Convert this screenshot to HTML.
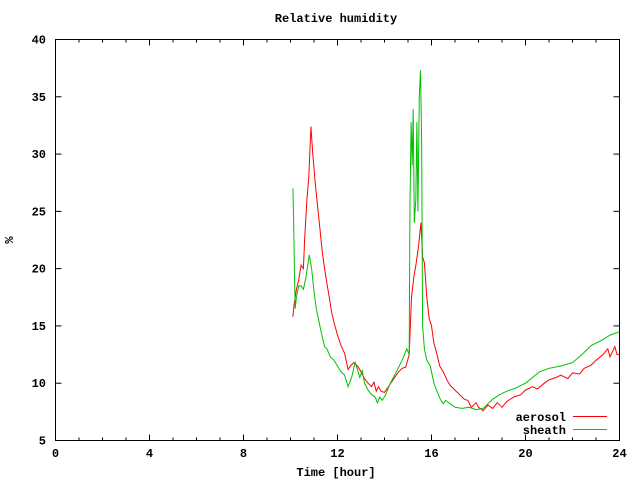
<!DOCTYPE html>
<html><head><meta charset="utf-8">
<style>
html,body{margin:0;padding:0;background:#fff;}
svg{display:block;}
text{font-family:"Liberation Mono","DejaVu Sans Mono",monospace;font-size:12px;font-weight:bold;fill:#000;}
</style></head>
<body>
<svg id="chart" width="640" height="480" viewBox="0 0 640 480">
<rect x="0" y="0" width="640" height="480" fill="#fff"/>
<text x="336" y="22" text-anchor="middle">Relative humidity</text>
<text x="336" y="476" text-anchor="middle">Time [hour]</text>
<text x="13" y="240" text-anchor="middle" transform="rotate(-90 13 240)">%</text>
<g id="axes"></g>
<g id="series"></g>
<rect x="55.5" y="39.5" width="564" height="401" fill="none" stroke="#000" stroke-width="1"/>
<g>
<text x="566" y="421" text-anchor="end">aerosol</text>
<line x1="573" y1="416.5" x2="607" y2="416.5" stroke="#ff0000" stroke-width="1"/>
<text x="566" y="434" text-anchor="end">sheath</text>
<line x1="573" y1="429.5" x2="607" y2="429.5" stroke="#00c000" stroke-width="1"/>
</g>
</svg>
<script>
const xTicks = [0, 4, 8, 12, 16, 20, 24];
const xMinorTicks = [1,2,3,5,6,7,9,10,11,13,14,15,17,18,19,21,22,23];
const yTicks = [5, 10, 15, 20, 25, 30, 35, 40];

const aerosolTime = [10.1,10.15,10.25,10.35,10.45,10.55,10.6,10.7,10.78,10.87,10.95,11.05,11.15,11.25,11.35,11.45,11.55,11.65,11.75,11.85,12.0,12.15,12.3,12.45,12.55,12.7,12.85,13.0,13.15,13.3,13.45,13.55,13.65,13.75,13.85,14.0,14.2,14.4,14.6,14.75,14.9,15.05,15.15,15.25,15.35,15.45,15.55,15.62,15.7,15.8,15.9,16.0,16.1,16.2,16.35,16.5,16.65,16.8,17.0,17.2,17.4,17.55,17.7,17.9,18.0,18.2,18.4,18.6,18.8,19.0,19.2,19.5,19.8,20.0,20.3,20.5,20.8,21.0,21.3,21.5,21.8,22.0,22.3,22.5,22.8,23.0,23.3,23.5,23.6,23.8,23.9,24.0];
const aerosolValues = [15.8,16.8,18.2,19.0,20.3,20.0,22.5,26,28,32.4,30,27.5,25.5,23.5,21.5,20,18.7,17.5,16.2,15.3,14.2,13.3,12.6,11.2,11.5,11.8,11.5,11.0,10.4,10.0,9.7,10.1,9.3,9.7,9.3,9.2,9.8,10.4,11.0,11.3,11.4,12.5,17.5,19.3,20.5,22,24,21,20.5,17.5,15.7,15,13.5,12.8,11.5,11,10.3,9.8,9.4,9.0,8.6,8.5,7.9,8.3,7.9,7.6,8.1,7.8,8.3,7.9,8.4,8.8,9.0,9.4,9.7,9.5,10.0,10.3,10.5,10.7,10.4,10.9,10.8,11.3,11.6,12.0,12.5,13.0,12.3,13.2,12.5,12.5];

const sheathTime = [10.1,10.13,10.17,10.2,10.25,10.35,10.45,10.55,10.65,10.8,10.9,11.0,11.1,11.2,11.3,11.45,11.55,11.7,11.85,12.0,12.15,12.3,12.45,12.6,12.75,12.85,12.95,13.05,13.15,13.3,13.45,13.6,13.7,13.8,13.9,14.05,14.2,14.5,14.75,14.95,15.05,15.08,15.13,15.18,15.22,15.27,15.33,15.38,15.42,15.48,15.53,15.58,15.62,15.7,15.8,15.95,16.1,16.25,16.4,16.5,16.6,16.8,17.0,17.3,17.6,17.9,18.2,18.4,18.6,18.9,19.2,19.6,20.0,20.3,20.6,21.0,21.5,22.0,22.4,22.8,23.2,23.6,24.0];
const sheathValues = [27,24.5,19.5,16.5,17.5,18.5,18.5,18.2,19.2,21.2,20,18,16.5,15.5,14.5,13.2,13.0,12.3,12.0,11.5,11.0,10.7,9.7,10.5,11.8,11.2,10.5,11.1,10.0,9.4,9.0,8.8,8.3,8.8,8.5,9.0,9.8,11,12,13.0,12.5,25,32.8,29,33.9,24,26,32.8,25,35,37.3,31.5,15,13.0,12.0,11.5,10.0,9.2,8.5,8.2,8.5,8.2,7.9,7.8,7.9,7.7,7.8,8.2,8.6,9.0,9.3,9.6,10.0,10.5,11.0,11.3,11.5,11.8,12.5,13.3,13.7,14.2,14.5];

const NS = "http://www.w3.org/2000/svg";
const X0 = 55.5, X1 = 619.5, Y0 = 440.5, Y1 = 39.5;
function xScale(t){ return X0 + (t - 0) / 24 * (X1 - X0); }
function yScale(v){ return Y0 - (v - 5) / 35 * (Y0 - Y1); }

const axes = document.getElementById('axes');
function mk(tag, attrs){ const e = document.createElementNS(NS, tag); for (const k in attrs) e.setAttribute(k, attrs[k]); return e; }

xTicks.forEach(t => {
  const x = xScale(t);
  const a = mk('line', {x1:x, y1:Y0, x2:x, y2:Y0-6, stroke:'#000'});
  
  
  axes.appendChild(a);
  const b = mk('line', {x1:x, y1:Y1, x2:x, y2:Y1+6, stroke:'#000'});
  
  
  axes.appendChild(b);
  const l = mk('text', {x:x, y:457, 'text-anchor':'middle'});
  l.textContent = t;
  
  
  axes.appendChild(l);
});
xMinorTicks.forEach(t => {
  const x = xScale(t);
  const a = mk('line', {x1:x, y1:Y0, x2:x, y2:Y0-3, stroke:'#000'});
  
  
  axes.appendChild(a);
  const b = mk('line', {x1:x, y1:Y1, x2:x, y2:Y1+3, stroke:'#000'});
  
  
  axes.appendChild(b);
});
yTicks.forEach(v => {
  const y = yScale(v);
  const a = mk('line', {x1:X0, y1:y, x2:X0+6, y2:y, stroke:'#000'});
  
  
  axes.appendChild(a);
  const b = mk('line', {x1:X1, y1:y, x2:X1-6, y2:y, stroke:'#000'});
  
  
  axes.appendChild(b);
  const l = mk('text', {x:46, y:y+4, 'text-anchor':'end'});
  l.textContent = v;
  
  
  axes.appendChild(l);
});

const series = document.getElementById('series');
function drawLine(ts, vs, color, name){
  const pts = ts.map((t,i) => xScale(t).toFixed(1) + ',' + yScale(vs[i]).toFixed(1)).join(' ');
  const p = mk('polyline', {points:pts, fill:'none', stroke:color, 'stroke-width':1});
  
  
  series.appendChild(p);
}
drawLine(aerosolTime, aerosolValues, '#ff0000', 'aerosol-line');
drawLine(sheathTime, sheathValues, '#00c000', 'sheath-line');
</script>
</body></html>
